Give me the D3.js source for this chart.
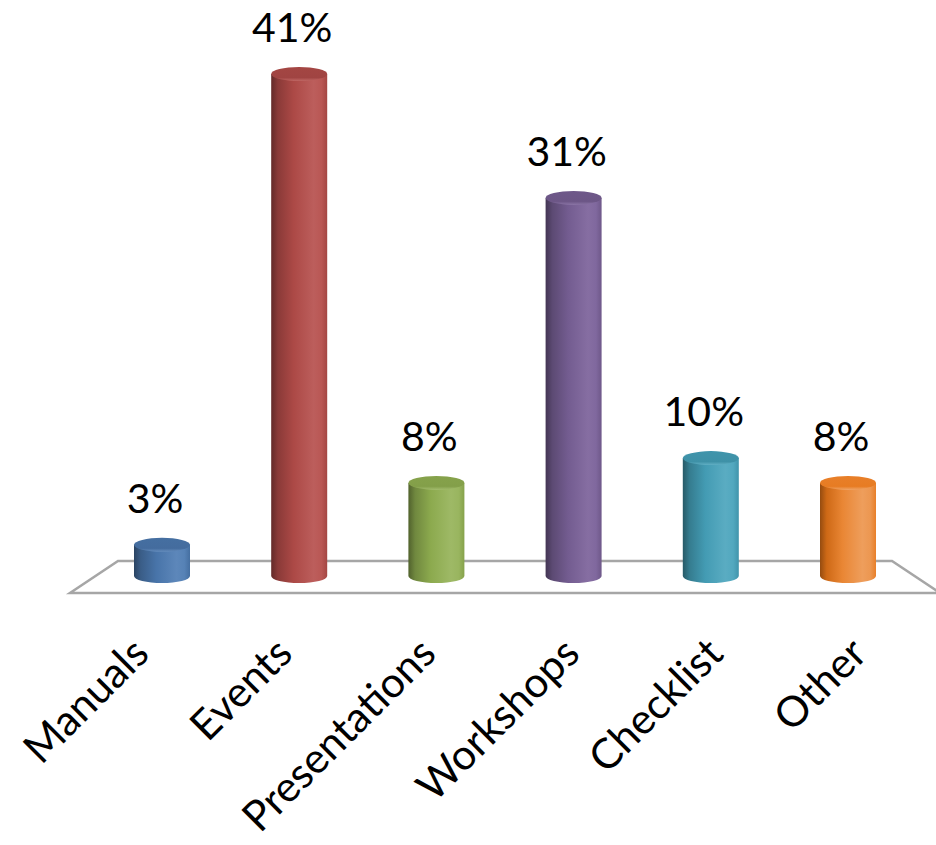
<!DOCTYPE html>
<html>
<head>
<meta charset="utf-8">
<script src="https://cdn.jsdelivr.net/npm/d3@7"></script>
<style>
  html, body { margin: 0; padding: 0; background: #ffffff; }
  svg { display: block; }
  text { font-family: Lato, "Open Sans", sans-serif; fill: #000; }
</style>
</head>
<body>
<svg id="chart" width="936" height="845"></svg>
<script>
// Share of responses per channel (%)
const categories = ["Manuals", "Events", "Presentations", "Workshops", "Checklist", "Other"];
const values = [3, 41, 8, 31, 10, 8];
const valueLabels = ["3%", "41%", "8%", "31%", "10%", "8%"];
const colors = ["#4f81bd", "#c0504d", "#9bbb59", "#8064a2", "#4bacc6", "#f79646"];

const svg = d3.select("#chart");

// Scales: bars sit at mid depth, axis labels follow the wider front edge
const x = d3.scalePoint().domain(categories).range([162, 848]);
const xLabel = d3.scalePoint().domain(categories).range([151, 869]);
const y = d3.scaleLinear().domain([0, 41]).range([575, 67]); // top edge of each cylinder
const rx = 28, ry = 7;
const baseY = 576; // centre of each cylinder's bottom ellipse

// Floor (3D plane)
const floor = [[118, 561], [892, 561], [940, 593], [70, 593]];
svg.append("path")
  .attr("d", "M" + floor.map(p => p.join(",")).join("L") + "Z")
  .attr("fill", "#ffffff")
  .attr("stroke", "#a6a6a6")
  .attr("stroke-width", 2.5)
  .attr("stroke-linejoin", "miter");

// Cylinder shading gradients
const defs = svg.append("defs");
colors.forEach((c, i) => {
  const base = d3.hsl(c);
  const shade = (l) => {
    const h = d3.hsl(base);
    h.l = Math.max(0, Math.min(1, base.l * l));
    h.s = base.s * 0.88;
    return h.formatHex();
  };
  const g = defs.append("linearGradient").attr("id", "body" + i)
    .attr("x1", "0%").attr("x2", "100%").attr("y1", "0%").attr("y2", "0%");
  [[0, shade(0.52)], [0.12, shade(0.72)], [0.4, shade(0.9)], [0.76, shade(1.04)], [0.9, shade(1.0)], [1, shade(0.86)]]
    .forEach(([o, col]) => g.append("stop").attr("offset", o).attr("stop-color", col));
  const t = defs.append("linearGradient").attr("id", "top" + i)
    .attr("x1", "0%").attr("x2", "0%").attr("y1", "0%").attr("y2", "100%");
  [[0, shade(0.86)], [0.75, shade(0.84)], [1, shade(1.08)]]
    .forEach(([o, col]) => t.append("stop").attr("offset", o).attr("stop-color", col));
});

const data = categories.map((c, i) => ({ c, v: values[i], label: valueLabels[i], i }));

const bars = svg.append("g").selectAll("g").data(data).join("g");

bars.append("path")
  .attr("d", d => {
    const cx = x(d.c), yt = y(d.v) + ry;
    return `M${cx - rx},${yt}L${cx - rx},${baseY}A${rx},${ry} 0 0 0 ${cx + rx},${baseY}L${cx + rx},${yt}Z`;
  })
  .attr("fill", d => `url(#body${d.i})`);

bars.append("ellipse")
  .attr("cx", d => x(d.c))
  .attr("cy", d => y(d.v) + ry)
  .attr("rx", rx)
  .attr("ry", ry)
  .attr("fill", d => `url(#top${d.i})`);

// Value labels
svg.append("g").selectAll("text").data(data).join("text")
  .attr("x", d => x(d.c) - 7)
  .attr("y", d => y(d.v) - 25)
  .attr("text-anchor", "middle")
  .attr("font-size", 41)
  .text(d => d.label);

// Category labels, rotated
svg.append("g").selectAll("text").data(data).join("text")
  .attr("transform", d => `translate(${xLabel(d.c)},${656}) rotate(-45)`)
  .attr("text-anchor", "end")
  .attr("font-size", 42)
  .text(d => d.c);
</script>
</body>
</html>
